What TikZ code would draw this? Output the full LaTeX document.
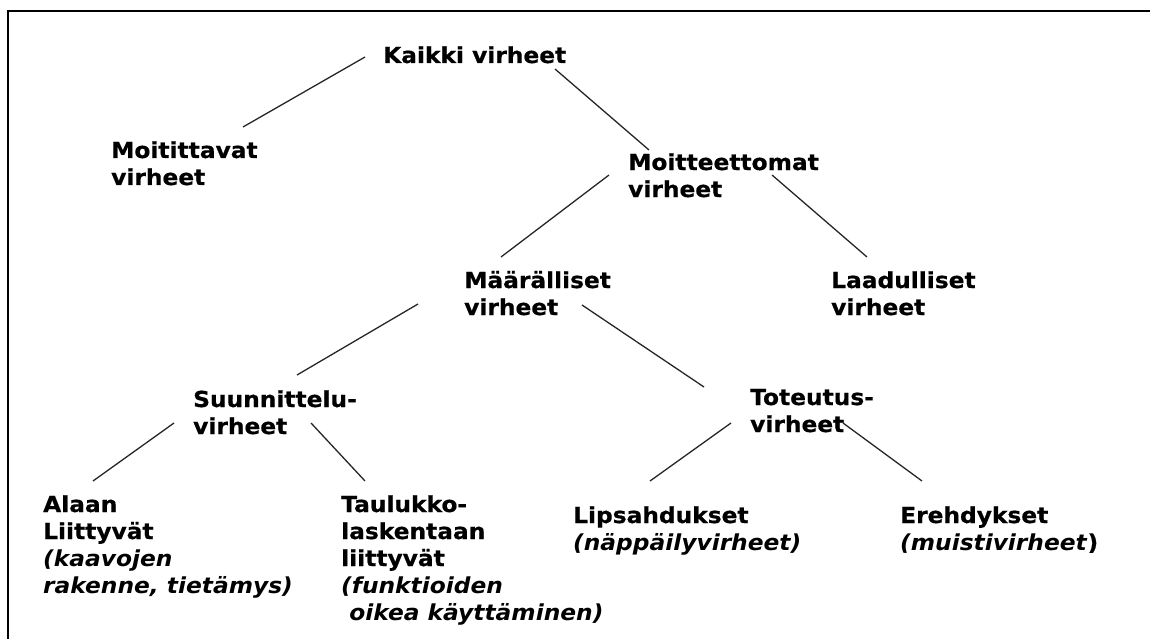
\documentclass[tikz,border=0pt]{standalone}
\usepackage{fontspec}
\setmainfont{DejaVu Sans}[FakeStretch=1.06, BoldFeatures={FakeBold=0.6}]
\begin{document}
\begin{tikzpicture}[x=1pt,y=-1pt,
  lbl/.style={anchor=base west, inner sep=0pt, align=left,
              font=\bfseries\fontsize{22}{27}\selectfont},
  link/.style={line width=1.3pt, black!85}]
\useasboundingbox (0,0) rectangle (1150,639);
\clip (0,0) rectangle (1150,639);
% outer frame (only left and top edges fall inside the page)
\draw[line width=2.2pt] (8,700) -- (8,11) -- (1200,11);

% tree labels, each placed at the baseline of its last line
\node[lbl] (kaikki) at (383,63) {Kaikki virheet};
\node[lbl] (moitittavat) at (111,185) {Moitittavat\\virheet};
\node[lbl] (moitteettomat) at (628,197) {Moitteettomat\\virheet};
\node[lbl] (maaralliset) at (464,315) {Määrälliset\\virheet};
\node[lbl] (laadulliset) at (831,315) {Laadulliset\\virheet};
\node[lbl] (suunnittelu) at (193,434) {Suunnittelu-\\virheet};
\node[lbl] (toteutus) at (750,432) {Toteutus-\\virheet};
\node[lbl] (alaan) at (43,593) {Alaan\\Liittyvät\\\textit{(kaavojen}\\\textit{rakenne, tietämys)}};
\node[lbl] (taulukko) at (341,620) {Taulukko-\\laskentaan\\liittyvät\\\textit{(funktioiden}\\\textit{\ oikea käyttäminen)}};
\node[lbl] (lipsahdukset) at (573,550) {Lipsahdukset\\\textit{(näppäilyvirheet)}};
\node[lbl] (erehdykset) at (900,550) {Erehdykset\\\textit{(muistivirheet})};

% connectors
\draw[link] ([shift={(-18,-6)}]kaikki.base west) -- ([shift={(132,-58)}]moitittavat.base west);
\draw[link] ([shift={(172,6)}]kaikki.base west) -- ([shift={(21,-47)}]moitteettomat.base west);
\draw[link] ([shift={(-19,-22)}]moitteettomat.base west) -- ([shift={(37,-58)}]maaralliset.base west);
\draw[link] ([shift={(144,-22)}]moitteettomat.base west) -- ([shift={(36,-58)}]laadulliset.base west);
\draw[link] ([shift={(-46,-11)}]maaralliset.base west) -- ([shift={(104,-59)}]suunnittelu.base west);
\draw[link] ([shift={(118,-10)}]maaralliset.base west) -- ([shift={(-46,-45)}]toteutus.base west);
\draw[link] ([shift={(-19,-11)}]suunnittelu.base west) -- ([shift={(50,-112)}]alaan.base west);
\draw[link] ([shift={(118,-11)}]suunnittelu.base west) -- ([shift={(24,-139)}]taulukko.base west);
\draw[link] ([shift={(-19,-9)}]toteutus.base west) -- ([shift={(77,-69)}]lipsahdukset.base west);
\draw[link] ([shift={(93,-9)}]toteutus.base west) -- ([shift={(22,-69)}]erehdykset.base west);
\end{tikzpicture}
\end{document}
